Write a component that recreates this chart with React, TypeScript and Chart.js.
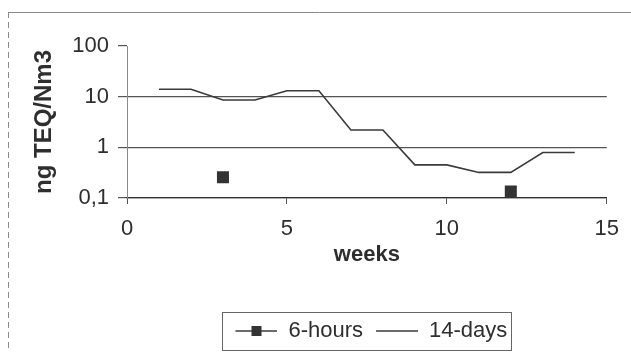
import React, { useEffect, useRef } from 'react';
import { Chart, registerables } from 'chart.js';

Chart.register(...registerables);

// ---- data ----
const weeks = [1, 2, 3, 4, 5, 6, 7, 8, 9, 10, 11, 12, 13, 14];
const fourteenDays = [14, 14, 8.6, 8.6, 13.1, 13.1, 2.2, 2.2, 0.45, 0.45, 0.32, 0.32, 0.79, 0.79];
const sixHoursWeeks = [3, 12];
const sixHours = [0.256, 0.135];
const yTicks = [0.1, 1, 10, 100];
const seriesNames = ['6-hours', '14-days'];
const xTitle = 'weeks';
const yTitle = 'ng TEQ/Nm3';

const TEXT = '#2e2e2e';
const LINE = '#3a3a3a';
const GRID = '#555555';

function makeIcon(withSquare: boolean): HTMLCanvasElement {
  const c = document.createElement('canvas');
  c.width = 51;
  c.height = 14;
  const ctx = c.getContext('2d')!;
  ctx.strokeStyle = LINE;
  ctx.lineWidth = 1.6;
  ctx.beginPath();
  ctx.moveTo(9, 7);
  ctx.lineTo(51, 7);
  ctx.stroke();
  if (withSquare) {
    ctx.fillStyle = '#333';
    ctx.fillRect(25, 2, 10, 10);
  }
  return c;
}

export default function App() {
  const ref = useRef<HTMLCanvasElement | null>(null);

  useEffect(() => {
    if (!ref.current) return;
    const icons = [makeIcon(true), makeIcon(false)];

    const framePlugin = {
      id: 'frame',
      beforeDraw(chart: any) {
        const ctx = chart.ctx;
        ctx.save();
        ctx.fillStyle = '#ffffff';
        ctx.fillRect(0, 0, chart.width, chart.height);
        ctx.strokeStyle = '#8a8a8a';
        ctx.lineWidth = 1;
        ctx.beginPath();
        ctx.moveTo(8, 12.5);
        ctx.lineTo(chart.width, 12.5);
        ctx.stroke();
        ctx.setLineDash([6, 4]);
        ctx.beginPath();
        ctx.moveTo(8.5, 12);
        ctx.lineTo(8.5, chart.height);
        ctx.stroke();
        ctx.restore();
      },
      afterDraw(chart: any) {
        const lg = chart.legend;
        if (!lg || !lg.legendHitBoxes || !lg.legendHitBoxes.length) return;
        const hb = lg.legendHitBoxes;
        const first = hb[0];
        const last = hb[hb.length - 1];
        const ctx = chart.ctx;
        ctx.save();
        ctx.strokeStyle = '#666';
        ctx.lineWidth = 1;
        const l = Math.round(first.left) - 3.5;
        const r = Math.round(last.left + last.width) + 4.5;
        const t = Math.round(first.top) - 7.5;
        const b = Math.round(first.top) + 30.5;
        ctx.strokeRect(l, t, r - l, b - t);
        ctx.restore();
      },
    };

    const chart = new Chart(ref.current, {
      type: 'scatter',
      data: {
        datasets: [
          {
            label: seriesNames[0],
            data: sixHoursWeeks.map((x, i) => ({ x, y: sixHours[i] })),
            showLine: false,
            pointStyle: 'rect',
            pointRadius: 8.5,
            pointBackgroundColor: '#333',
            pointBorderWidth: 0,
            pointBorderColor: '#333',
          },
          {
            label: seriesNames[1],
            data: weeks.map((x, i) => ({ x, y: fourteenDays[i] })),
            showLine: true,
            pointRadius: 0,
            borderColor: LINE,
            borderWidth: 1.6,
            tension: 0,
          },
        ],
      } as any,
      options: {
        animation: false,
        responsive: true,
        maintainAspectRatio: false,
        layout: { padding: { left: 0, right: 24, top: 46, bottom: 0 } },
        plugins: {
          tooltip: { enabled: false },
          legend: {
            position: 'bottom',
            fullSize: false,
            labels: {
              usePointStyle: true,
              pointStyleWidth: 51,
              padding: 4,
              color: TEXT,
              font: { family: '"Liberation Sans", Arial, sans-serif', size: 22 },
              generateLabels: () =>
                seriesNames.map((n, i) => ({
                  text: n,
                  pointStyle: icons[i] as any,
                  fillStyle: 'transparent',
                  strokeStyle: 'transparent',
                  lineWidth: 0,
                  hidden: false,
                  datasetIndex: i,
                  fontColor: TEXT,
                })),
            },
          },
        },
        scales: {
          x: {
            type: 'linear',
            min: 0,
            max: 15,
            ticks: {
              stepSize: 5,
              color: TEXT,
              padding: 12,
              font: { family: '"Liberation Sans", Arial, sans-serif', size: 22 },
            },
            grid: { drawOnChartArea: false, drawTicks: true, tickLength: 6, color: GRID },
            border: { display: true, color: '#333', width: 1.3 },
            title: {
              display: true,
              text: xTitle,
              color: TEXT,
              font: { family: '"Liberation Sans", Arial, sans-serif', size: 22, weight: 'bold' },
              padding: { top: 0, bottom: 48 },
            },
            afterFit: (s: any) => {
              s.height = 118;
            },
          },
          y: {
            type: 'logarithmic',
            min: 0.1,
            max: 100,
            afterBuildTicks: (s: any) => {
              s.ticks = yTicks.map((v) => ({ value: v }));
            },
            ticks: {
              autoSkip: false,
              color: TEXT,
              padding: 9,
              font: { family: '"Liberation Sans", Arial, sans-serif', size: 22 },
              callback: (v: any) => String(v).replace('.', ','),
            },
            grid: {
              color: (c: any) => (c.tick && c.tick.value === 100 ? 'rgba(0,0,0,0)' : GRID),
              tickColor: GRID,
              tickLength: 9,
              lineWidth: 1.2,
            },
            border: { display: true, color: '#8a8a8a', width: 1 },
            title: {
              display: true,
              text: yTitle,
              color: TEXT,
              font: { family: '"Liberation Sans", Arial, sans-serif', size: 24, weight: 'bold' },
              padding: { top: 30, bottom: 0 },
            },
            afterFit: (s: any) => {
              s.width = 127;
            },
          },
        },
      } as any,
      plugins: [framePlugin],
    });
    return () => chart.destroy();
  }, []);

  return (
    <div style={{ position: 'absolute', left: 0, top: 0, width: 631, height: 352 }}>
      <canvas ref={ref} />
    </div>
  );
}
